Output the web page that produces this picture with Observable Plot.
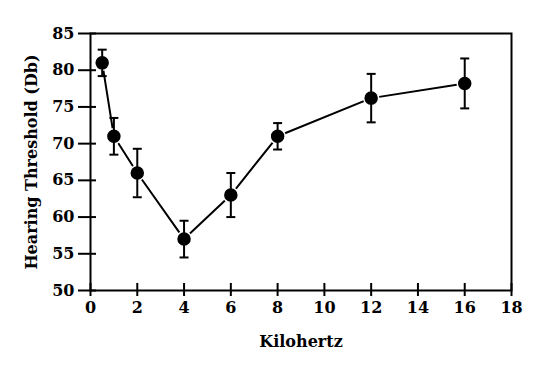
<!DOCTYPE html>
<html>
<head>
<meta charset="utf-8">
<script src="https://cdn.jsdelivr.net/npm/d3@7"></script>
<script src="https://cdn.jsdelivr.net/npm/@observablehq/plot@0.6"></script>
<style>
  html, body { margin: 0; padding: 0; background: #fff; }
</style>
</head>
<body>
<div id="chart"></div>
<script>
const freqs = [0.5, 1, 2, 4, 6, 8, 12, 16];
const thresholds = [81, 71, 66, 57, 63, 71, 76.2, 78.2];
const errors = [1.8, 2.5, 3.3, 2.5, 3.0, 1.8, 3.3, 3.4];
const xTicks = [0, 2, 4, 6, 8, 10, 12, 14, 16, 18];
const yTicks = [50, 55, 60, 65, 70, 75, 80, 85];
const xLabel = "Kilohertz";
const yLabel = "Hearing Threshold (Db)";

const data = freqs.map((f, i) => ({
  f, v: thresholds[i], lo: thresholds[i] - errors[i], hi: thresholds[i] + errors[i]
}));

const cap = {
  draw(ctx) { ctx.moveTo(-4.5, 0); ctx.lineTo(4.5, 0); }
};

const font = "DejaVu Serif";

const chart = Plot.plot({
  width: 545,
  height: 383,
  marginLeft: 90,
  marginRight: 34,
  marginTop: 33,
  marginBottom: 93,
  style: { fontFamily: font, fontWeight: "bold", fontSize: "16px", color: "black", background: "white" },
  x: { domain: [0, 18] },
  y: { domain: [50, 85] },
  marks: [
    Plot.frame({ stroke: "black", strokeWidth: 2 }),
    Plot.axisY({ ticks: yTicks, tickSize: 18, dx: 6, tickFormat: () => "", strokeWidth: 2, label: null }),
    Plot.axisY({ ticks: yTicks, tickSize: 0, tickPadding: 16, label: null, fill: "black" }),
    Plot.axisX({ ticks: xTicks, tickSize: 13, dy: -7, tickFormat: () => "", strokeWidth: 2, label: null }),
    Plot.axisX({ ticks: xTicks, tickSize: 0, tickPadding: 11, label: null, fill: "black" }),
    Plot.text([yLabel], { frameAnchor: "left", dx: -59, rotate: -90, textAnchor: "middle", lineAnchor: "middle", fill: "black" }),
    Plot.text([xLabel], { frameAnchor: "bottom", dy: 51, textAnchor: "middle", lineAnchor: "middle", fill: "black" }),
    Plot.line(data, { x: "f", y: "v", stroke: "black", strokeWidth: 2 }),
    Plot.dot(data, { x: "f", y: "v", r: 7.5, fill: "black", stroke: "white", strokeWidth: 1.5 }),
    Plot.ruleX(data, { x: "f", y1: "lo", y2: "hi", stroke: "black", strokeWidth: 2 }),
    Plot.dot(data, { x: "f", y: "hi", symbol: cap, r: 4.5, stroke: "black", strokeWidth: 2, fill: "none" }),
    Plot.dot(data, { x: "f", y: "lo", symbol: cap, r: 4.5, stroke: "black", strokeWidth: 2, fill: "none" })
  ]
});
document.getElementById("chart").appendChild(chart);
</script>
</body>
</html>
